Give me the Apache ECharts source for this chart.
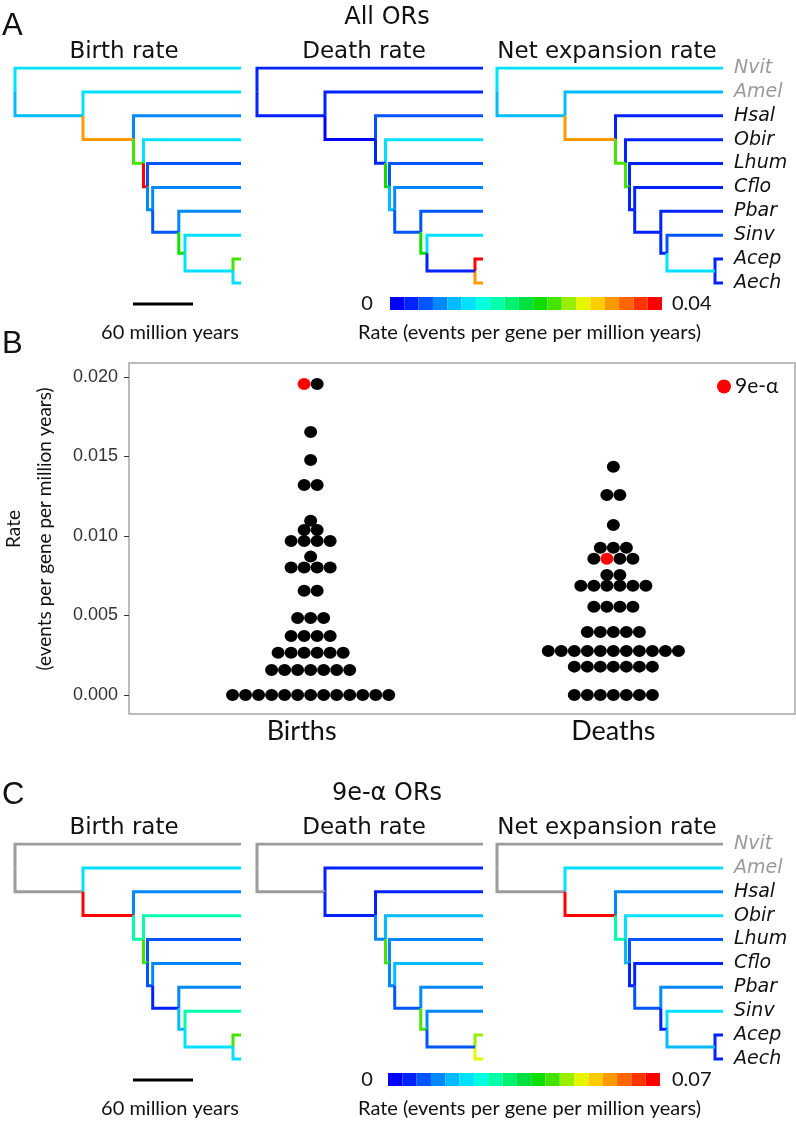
<!DOCTYPE html>
<html>
<head>
<meta charset="utf-8">
<script src="https://cdn.jsdelivr.net/npm/echarts@6/dist/echarts.min.js"></script>
<style>
html, body { margin: 0; padding: 0; background: #fff; }
#chart { width: 796px; height: 1124px; }
</style>
</head>
<body>
<div id="chart"></div>
<script>
// tips of the tree, top to bottom
const species = ['Nvit', 'Amel', 'Hsal', 'Obir', 'Lhum', 'Cflo', 'Pbar', 'Sinv', 'Acep', 'Aech'];
const outgroups = ['Nvit', 'Amel'];
// node ages (million years ago), root first; node k joins tip k and node k+1, node 8 joins Acep/Aech
const nodeAges = [226, 158, 107.5, 97.5, 93.5, 88.3, 62.2, 56, 8];
const scaleBarMy = 60;

// colour scale of the rate bars (jet, 19 steps)
const palette = ['#0000ff', '#0022ff', '#0055ff', '#0088ff', '#00bbff', '#00e0ff', '#00ffe0', '#00ffaa',
  '#00f070', '#00e040', '#10dd00', '#44e400', '#99ee00', '#e6f500', '#ffcc00', '#ff9900', '#ff6600',
  '#ff3300', '#ff0000'];
const rateMax = [0.04, 0.07];

// branch rates (events per gene per million years): tip branches, then branches to nodes 1..8
// null = not estimated (grey)
const allBirthTips = [0.0115, 0.0115, 0.007, 0.0115, 0.005, 0.007, 0.007, 0.0115, 0.024, 0.0115];
const allBirthNodes = [0.0095, 0.033, 0.024, 0.039, 0.007, 0.005, 0.022, 0.0115];
const allDeathTips = [0.003, 0.003, 0.005, 0.0115, 0.005, 0.007, 0.005, 0.0115, 0.039, 0.033];
const allDeathNodes = [0.003, 0.001, 0.003, 0.022, 0.0095, 0.005, 0.022, 0.003];
const allNetTips = [0.0115, 0.0095, 0.003, 0.003, 0.003, 0.003, 0.003, 0.005, 0.003, 0.003];
const allNetNodes = [0.0095, 0.033, 0.024, 0.024, 0.003, 0.003, 0.003, 0.0115];

const alphaBirthTips = [null, 0.02, 0.013, 0.0275, 0.009, 0.013, 0.013, 0.0275, 0.042, 0.02];
const alphaBirthNodes = [null, 0.068, 0.0275, 0.042, 0.009, 0.0055, 0.0165, 0.02];
const alphaDeathTips = [null, 0.0055, 0.0055, 0.0165, 0.013, 0.0165, 0.013, 0.013, 0.046, 0.0495];
const alphaDeathNodes = [null, 0.0055, 0.013, 0.042, 0.013, 0.009, 0.042, 0.009];
const alphaNetTips = [null, 0.02, 0.013, 0.02, 0.009, 0.0055, 0.013, 0.02, 0.0055, 0.0055];
const alphaNetNodes = [null, 0.068, 0.0275, 0.0165, 0.0055, 0.009, 0.0055, 0.0165];

// panel B: dot plot rows (rate) and how many dots sit in each row
const birthRows = [0, 0.00157, 0.00266, 0.00371, 0.00484, 0.00656, 0.00801, 0.0087, 0.00969, 0.01038, 0.01096, 0.01321, 0.01478, 0.01654, 0.01956];
const birthCounts = [13, 7, 6, 4, 3, 2, 4, 1, 4, 2, 1, 2, 1, 1, 2];
const deathRows = [0, 0.00178, 0.00277, 0.00396, 0.00555, 0.00687, 0.00755, 0.00857, 0.00926, 0.01069, 0.01258, 0.01436];
const deathCounts = [7, 7, 11, 5, 4, 6, 2, 4, 3, 1, 2, 1];
// the 9e-alpha dot: [row, slot] for births and deaths
const alphaBirth = [14, 0];
const alphaDeath = [7, 1];
const groups = ['Births', 'Deaths'];
const rateTicks = [0, 0.005, 0.01, 0.015, 0.02];

const panels = [
  { title: 'All ORs', trees: [[allBirthTips, allBirthNodes], [allDeathTips, allDeathNodes], [allNetTips, allNetNodes]] },
  { title: '9e-α ORs', trees: [[alphaBirthTips, alphaBirthNodes], [alphaDeathTips, alphaDeathNodes], [alphaNetTips, alphaNetNodes]] }
];
const treeTitles = ['Birth rate', 'Death rate', 'Net expansion rate'];

const chart = echarts.init(document.getElementById('chart'));

const panelShift = 776;
const treeLefts = [15, 257, 497];
const treeWidth = 226;
const tipGap = 23.89;
const GREY = '#9b9b9b';
const SANS = 'DejaVu Sans';
const CAL = 'Lato';

function rateColor(r, max) {
  if (r === null) return GREY;
  return palette[Math.min(palette.length - 1, Math.floor(r / max * palette.length))];
}

// y of each internal node = middle of its two children
const nodeY = [];
nodeY[8] = 8.5;
for (let k = 7; k >= 0; k--) nodeY[k] = (k + nodeY[k + 1]) / 2;

function branches(tipRates, nodeRates, max) {
  const out = [];
  const elbow = (p, age, y, r) => ({
    coords: [[nodeAges[p], nodeY[p]], [nodeAges[p], y], [age, y]],
    lineStyle: { color: rateColor(r, max) }
  });
  for (let i = 0; i < species.length; i++) {
    const p = Math.min(i, 8);
    out.push(elbow(p, 0, i, tipRates[i]));
  }
  for (let k = 1; k <= 8; k++) out.push(elbow(k - 1, nodeAges[k], nodeY[k], nodeRates[k - 1]));
  return out;
}

const grid = [], xAxis = [], yAxis = [], series = [], graphic = [];

function txt(x, y, text, size, family, opts) {
  graphic.push(Object.assign({
    type: 'text', x: x, y: y, silent: true,
    style: Object.assign({ text: text, fontSize: size, fontFamily: family, fill: '#111', align: 'center', verticalAlign: 'middle' }, opts || {})
  }));
}

panels.forEach((panel, pi) => {
  const off = pi * panelShift;
  panel.trees.forEach((tr, ti) => {
    const gi = grid.length;
    grid.push({ left: treeLefts[ti], top: 68 + off, width: treeWidth, height: tipGap * 10 });
    xAxis.push({ gridIndex: gi, type: 'value', min: 0, max: 226, inverse: true, show: false });
    const last = ti === 2;
    yAxis.push({
      gridIndex: gi, type: 'value', min: 0, max: 10, interval: 1, inverse: true,
      show: last, position: 'right',
      axisLine: { show: false }, axisTick: { show: false }, splitLine: { show: false },
      axisLabel: {
        show: last, margin: 11,
        formatter: v => {
          const n = species[v];
          if (!n) return '';
          return (outgroups.includes(n) ? '{g|' : '{k|') + n + '}';
        },
        rich: {
          g: { color: '#999', fontStyle: 'italic', fontFamily: SANS, fontSize: 19 },
          k: { color: '#111', fontStyle: 'italic', fontFamily: SANS, fontSize: 19 }
        }
      }
    });
    series.push({
      type: 'lines', coordinateSystem: 'cartesian2d', polyline: true, xAxisIndex: gi, yAxisIndex: gi,
      silent: true, animation: false,
      lineStyle: { width: 3, opacity: 1, cap: 'butt', join: 'miter' },
      data: branches(tr[0], tr[1], rateMax[pi])
    });
    if (ti === 0) {
      // scale bar
      series.push({
        type: 'lines', coordinateSystem: 'cartesian2d', polyline: true, xAxisIndex: gi, yAxisIndex: gi,
        silent: true, animation: false, clip: false,
        lineStyle: { width: 3, opacity: 1, color: '#000' },
        data: [{ coords: [[108, 9.88], [108 - scaleBarMy, 9.88]] }]
      });
    }
    txt([124, 364, 607][ti], 52 + off, treeTitles[ti], 23, SANS);
  });

  // colour bar
  const cg = grid.length;
  grid.push({ left: 390 - pi * 2, top: 297 + off, width: 272, height: 13 });
  xAxis.push({ gridIndex: cg, type: 'category', data: palette.map((c, i) => i), show: false });
  yAxis.push({ gridIndex: cg, type: 'value', min: 0, max: 1, show: false });
  series.push({
    type: 'bar', xAxisIndex: cg, yAxisIndex: cg, silent: true, animation: false,
    barWidth: '100%',
    data: palette.map(c => ({ value: 1, itemStyle: { color: c } }))
  });

  txt(387, 18 + off, panel.title, 24, SANS);
  txt(367, 304 + off, '0', 20, CAL);
  txt(672, 304 + off, String(rateMax[pi]), 20, CAL, { align: 'left' });
  txt(358, 333 + off, 'Rate (events per gene per million years)', 20, CAL, { align: 'left' });
  txt(170, 333 + off, '60 million years', 20, CAL);
});

// panel letters
txt(2, 26, 'A', 31, 'Liberation Sans', { align: 'left' });
txt(2, 344, 'B', 31, 'Liberation Sans', { align: 'left' });
txt(2, 795, 'C', 31, 'Liberation Sans', { align: 'left' });

// panel B
const bg = grid.length;
grid.push({ left: 129, right: 1, top: 363, bottom: 410, show: true, borderColor: '#a6a6a6', borderWidth: 1.5 });
xAxis.push({
  gridIndex: bg, type: 'value', min: 0.4, max: 2.6,
  axisLine: { show: false }, axisTick: { show: false }, splitLine: { show: false },
  axisLabel: {
    customValues: [1, 2], margin: 4,
    formatter: v => (v === 1 ? '{a|' + groups[0] + '}' : '{b|' + groups[1] + '}'),
    rich: {
      a: { fontFamily: CAL, fontSize: 27, color: '#111', padding: [0, 18, 0, 0] },
      b: { fontFamily: CAL, fontSize: 27, color: '#111' }
    }
  }
});
yAxis.push({
  gridIndex: bg, type: 'value', min: -0.0012, max: 0.02088,
  axisLine: { show: false }, splitLine: { show: false },
  axisTick: { show: true, customValues: rateTicks, length: 5, lineStyle: { color: '#333' } },
  axisLabel: { customValues: rateTicks, margin: 11, formatter: v => v.toFixed(3), fontFamily: 'Liberation Sans', fontSize: 18, color: '#333' }
});

const dotStep = 0.043;
function swarm(center, rows, counts, pick, wantPick) {
  const pts = [];
  rows.forEach((v, r) => {
    for (let i = 0; i < counts[r]; i++) {
      const isPick = r === pick[0] && i === pick[1];
      if (isPick !== wantPick) continue;
      pts.push([center + (i - (counts[r] - 1) / 2) * dotStep, v]);
    }
  });
  return pts;
}
const dotSize = [13, 12];
series.push({
  name: 'all', type: 'scatter', xAxisIndex: bg, yAxisIndex: bg, silent: true, animation: false,
  symbol: 'circle', symbolSize: dotSize, itemStyle: { color: '#000', opacity: 1 },
  data: swarm(1, birthRows, birthCounts, alphaBirth, false).concat(swarm(2, deathRows, deathCounts, alphaDeath, false))
});
series.push({
  name: '9e-α', type: 'scatter', xAxisIndex: bg, yAxisIndex: bg, silent: true, animation: false,
  symbol: 'circle', symbolSize: dotSize, itemStyle: { color: '#ff0000', opacity: 1 },
  data: swarm(1, birthRows, birthCounts, alphaBirth, true).concat(swarm(2, deathRows, deathCounts, alphaDeath, true))
});

// y axis title of panel B
txt(14, 529, 'Rate', 19, CAL, { }) ;
graphic[graphic.length - 1].rotation = Math.PI / 2;
txt(45, 529, '(events per gene per million years)', 19, CAL, { });
graphic[graphic.length - 1].rotation = Math.PI / 2;

chart.setOption({
  animation: false,
  backgroundColor: '#fff',
  grid: grid,
  xAxis: xAxis,
  yAxis: yAxis,
  legend: {
    data: ['9e-α'], left: 712, top: 371, icon: 'circle', itemWidth: 14, itemHeight: 14, itemGap: 4,
    selectedMode: false,
    textStyle: { fontFamily: CAL, fontSize: 21, color: '#111', padding: [0, 0, 0, -1] }
  },
  series: series,
  graphic: graphic
});
</script>
</body>
</html>
